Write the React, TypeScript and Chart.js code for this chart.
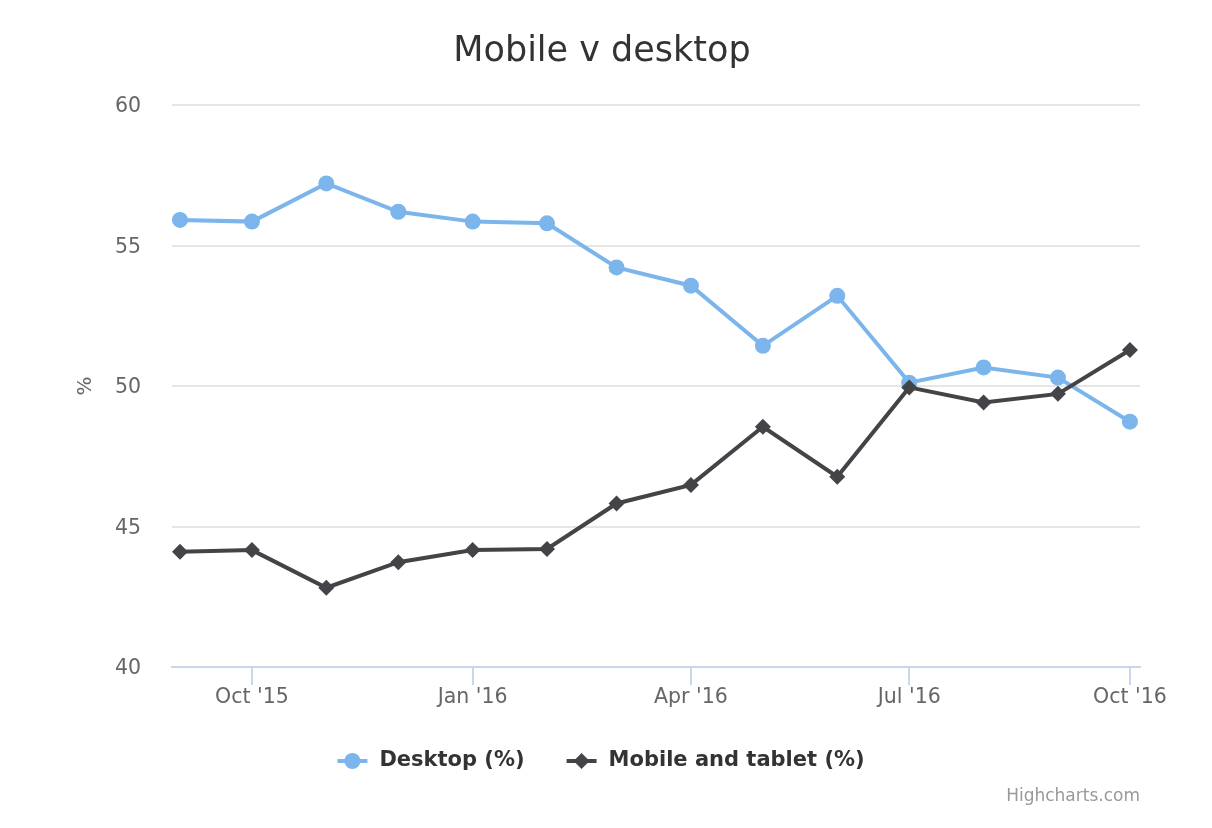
import React, { useEffect, useRef } from 'react';
import { Chart, registerables } from 'chart.js';

Chart.register(...registerables);

const FONT = '"DejaVu Sans", Verdana, sans-serif';

const TITLE = 'Mobile v desktop';
const Y_TITLE = '%';
const CREDITS = 'Highcharts.com';

const MONTHS = [
  '2015-09-01', '2015-10-01', '2015-11-01', '2015-12-01', '2016-01-01', '2016-02-01', '2016-03-01',
  '2016-04-01', '2016-05-01', '2016-06-01', '2016-07-01', '2016-08-01', '2016-09-01', '2016-10-01',
];
const DESKTOP = [55.91, 55.85, 57.21, 56.2, 55.85, 55.79, 54.22, 53.57, 51.43, 53.21, 50.12, 50.66, 50.3, 48.73];
const MOBILE = [44.1, 44.16, 42.82, 43.73, 44.16, 44.2, 45.82, 46.48, 48.55, 46.77, 49.95, 49.41, 49.72, 51.28];
const SERIES_NAMES = ['Desktop (%)', 'Mobile and tablet (%)'];
const SERIES_COLORS = ['#7cb5ec', '#434348'];
const SERIES_SYMBOLS = ['circle', 'rectRot'];

const X_TICK_DATES = ['2015-10-01', '2016-01-01', '2016-04-01', '2016-07-01', '2016-10-01'];
const X_TICK_LABELS = ["Oct '15", "Jan '16", "Apr '16", "Jul '16", "Oct '16"];
const Y_TICKS = [40, 45, 50, 55, 60];

const DAY = 86400000;
const dayOf = (d: string) => (Date.parse(d) - Date.parse(MONTHS[0])) / DAY;

const W = 1212;
const H = 828;
const PAD_LEFT = 64;

const legendPlugin = {
  id: 'hcLegend',
  afterDraw(chart: any) {
    const ctx = chart.ctx as CanvasRenderingContext2D;
    ctx.save();
    ctx.font = `bold 21px ${FONT}`;
    const items = chart.data.datasets.map((ds: any) => ({ ds, w: ctx.measureText(ds.label).width }));
    const SYM = 30, GAP = 12, DIST = 42;
    const total = items.reduce((a: number, it: any) => a + SYM + GAP + it.w, 0) + DIST * (items.length - 1);
    let x = 601 - total / 2;
    const y = 761;
    items.forEach((it: any) => {
      const c = it.ds.borderColor;
      ctx.strokeStyle = c;
      ctx.fillStyle = c;
      ctx.lineWidth = 4;
      ctx.beginPath();
      ctx.moveTo(x, y);
      ctx.lineTo(x + SYM, y);
      ctx.stroke();
      const cx = x + SYM / 2;
      const r = 8;
      ctx.beginPath();
      if (it.ds.pointStyle === 'rectRot') {
        ctx.moveTo(cx, y - r);
        ctx.lineTo(cx + r, y);
        ctx.lineTo(cx, y + r);
        ctx.lineTo(cx - r, y);
        ctx.closePath();
      } else {
        ctx.arc(cx, y, r, 0, Math.PI * 2);
      }
      ctx.fill();
      ctx.fillStyle = '#333333';
      ctx.textAlign = 'left';
      ctx.textBaseline = 'middle';
      ctx.fillText(it.ds.label, x + SYM + GAP, y);
      x += SYM + GAP + it.w + DIST;
    });
    ctx.font = `17px ${FONT}`;
    ctx.fillStyle = '#999999';
    ctx.textAlign = 'right';
    ctx.textBaseline = 'middle';
    ctx.fillText(CREDITS, 1140, 797);
    ctx.restore();
  },
};

export default function App() {
  const ref = useRef<HTMLCanvasElement | null>(null);

  useEffect(() => {
    document.body.style.margin = '0';
    const canvas = ref.current;
    if (!canvas) return;
    const series = [DESKTOP, MOBILE];
    const chart = new Chart(canvas, {
      type: 'line',
      data: {
        datasets: series.map((vals, s) => ({
          label: SERIES_NAMES[s],
          data: MONTHS.map((m, i) => ({ x: dayOf(m), y: vals[i] })),
          borderColor: SERIES_COLORS[s],
          backgroundColor: SERIES_COLORS[s],
          pointBackgroundColor: SERIES_COLORS[s],
          pointBorderColor: SERIES_COLORS[s],
          pointBorderWidth: 0,
          pointStyle: SERIES_SYMBOLS[s] as any,
          pointRadius: 8,
          borderWidth: 4,
          tension: 0,
          fill: false,
          order: s === 0 ? 1 : 0,
        })),
      },
      options: {
        responsive: false,
        maintainAspectRatio: false,
        animation: false,
        layout: { padding: { left: PAD_LEFT, right: 72, top: 0, bottom: 0 } },
        plugins: {
          legend: { display: false },
          tooltip: { enabled: false },
          title: {
            display: true,
            text: TITLE,
            color: '#333333',
            font: { family: FONT, size: 35, weight: 'normal' },
            padding: { top: 31, bottom: 32 },
          },
        },
        scales: {
          x: {
            type: 'linear',
            min: -3.33,
            max: 400.2,
            afterBuildTicks: (s: any) => {
              s.ticks = X_TICK_DATES.map((d) => ({ value: dayOf(d) }));
            },
            afterFit: (s: any) => {
              s.height = H - 667;
            },
            grid: { drawOnChartArea: false, drawTicks: true, tickLength: 18, color: '#ccd6eb', lineWidth: 2 },
            border: { display: true, color: '#ccd6eb', width: 2 },
            ticks: {
              callback: (_v: any, i: number) => X_TICK_LABELS[i],
              color: '#666666',
              font: { family: FONT, size: 20.5 },
              padding: 0,
              maxRotation: 0,
              autoSkip: false,
            },
          },
          y: {
            min: 40,
            max: 60,
            afterBuildTicks: (s: any) => {
              s.ticks = Y_TICKS.map((v) => ({ value: v }));
            },
            afterFit: (s: any) => {
              s.width = 172 - PAD_LEFT;
            },
            grid: { color: '#e6e6e6', lineWidth: 2, drawTicks: false },
            border: { display: false },
            ticks: { color: '#666666', font: { family: FONT, size: 20.5 }, padding: 31, labelOffset: 2 },
            title: {
              display: true,
              text: Y_TITLE,
              color: '#666666',
              font: { family: FONT, size: 20 },
              padding: { top: 74 - PAD_LEFT, bottom: 0 },
            },
          },
        },
      },
      plugins: [legendPlugin],
    });
    return () => chart.destroy();
  }, []);

  return <canvas ref={ref} width={W} height={H} style={{ display: 'block' }} />;
}
